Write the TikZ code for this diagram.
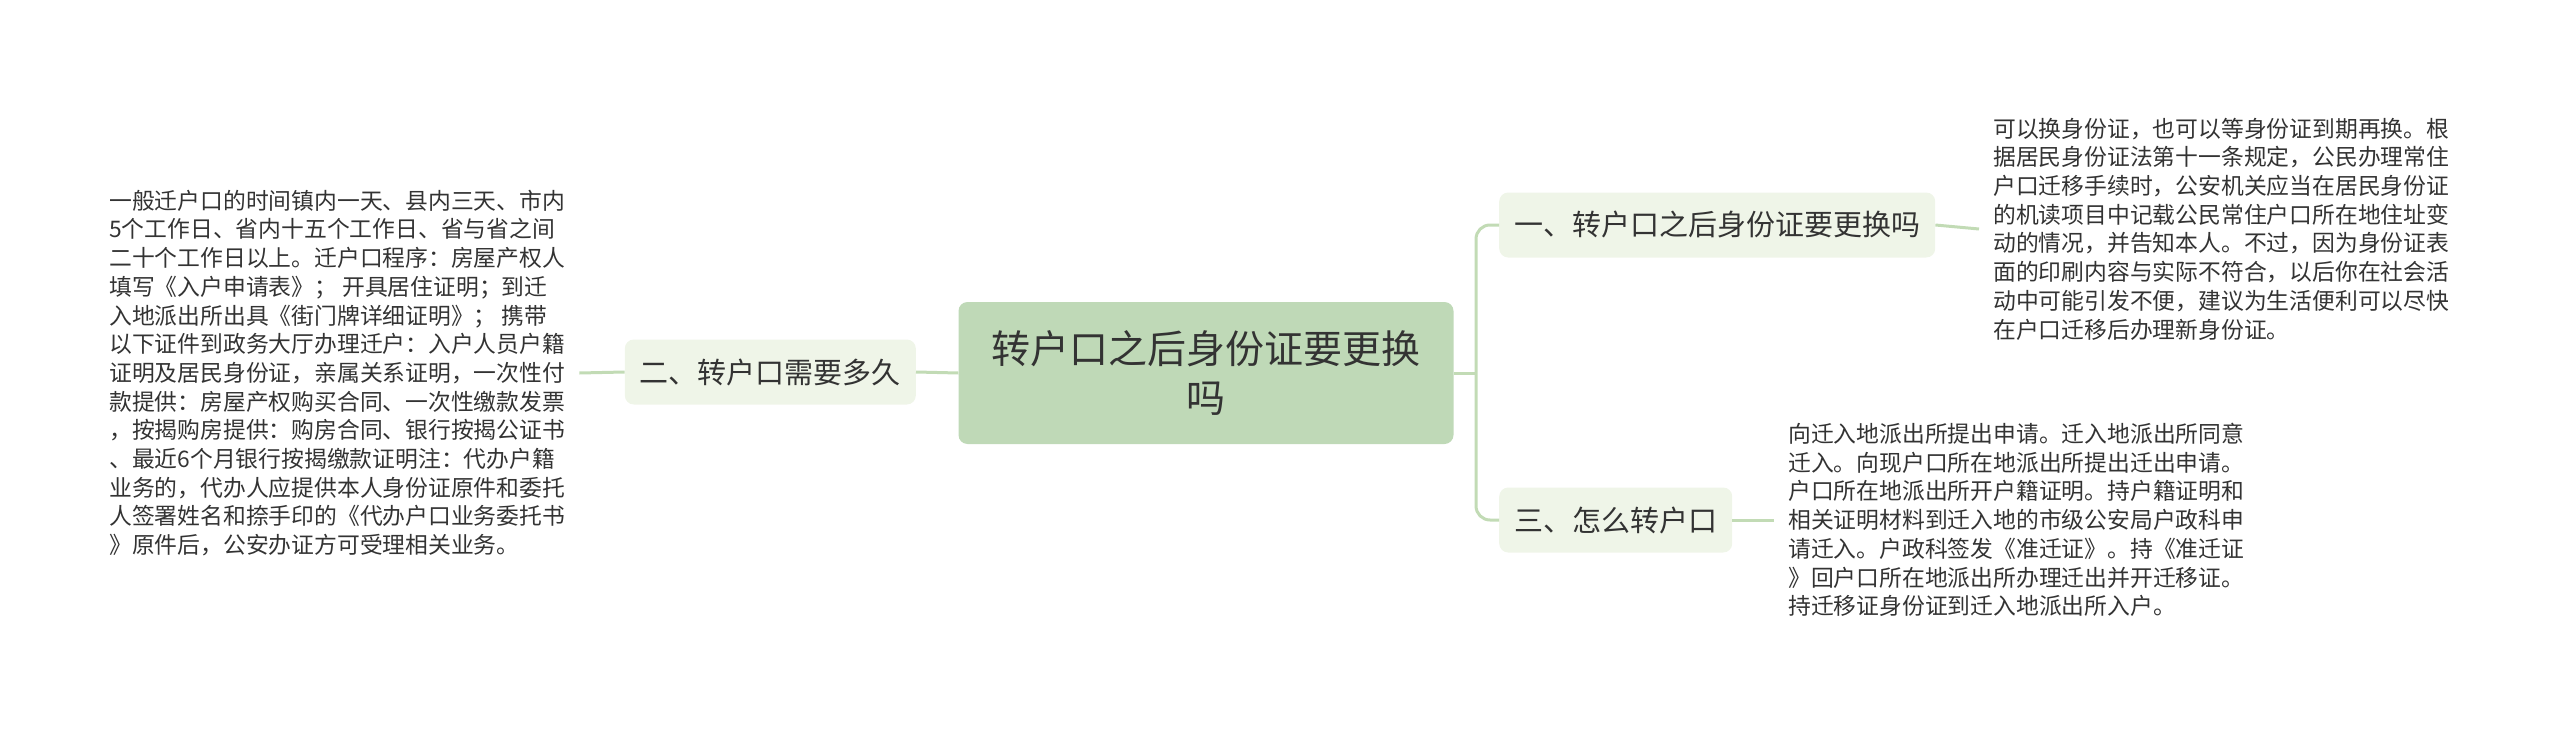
\documentclass[tikz,border=0pt]{standalone}
\usepackage{fontspec}
\setmainfont{Noto Sans CJK SC}

\definecolor{rootgreen}{HTML}{BFD9B7}
\definecolor{branchgreen}{HTML}{EFF5E8}
\definecolor{linegreen}{HTML}{C2DBB5}
\definecolor{inkgray}{HTML}{333333}

\tikzset{
  rootbox/.style={fill=rootgreen, rounded corners=9pt, minimum width=495pt,
    minimum height=142pt, align=center, text=inkgray,
    font=\fontsize{39pt}{49pt}\selectfont},
  branchbox/.style={fill=branchgreen, rounded corners=9pt, minimum height=65pt,
    inner xsep=15pt, text=inkgray, font=\fontsize{29pt}{35pt}\selectfont},
  leaftext/.style={align=left, inner xsep=14pt, inner ysep=0pt, text=inkgray,
    font=\fontsize{22.8pt}{28.7pt}\selectfont},
  link/.style={draw=linegreen, line width=3pt},
}

\begin{document}
\begin{tikzpicture}[x=1pt,y=-1pt]
  \useasboundingbox (0,0) rectangle (2560,733);

  %central topic
  \node[rootbox] (root) at (1206,373) {转户口之后身份证要更换\\吗};

  %branches
  \node[branchbox, anchor=east] (howlong) at (916,372) {二、转户口需要多久};
  \node[branchbox, anchor=west] (idcard) at (1499,225) {一、转户口之后身份证要更换吗};
  \node[branchbox, anchor=west] (howto) at (1499,520) {三、怎么转户口};

  %text of branch two
  \node[leaftext, anchor=west] (howlongtext) at (95,373) {一般迁户口的时间镇内一天、县内三天、市内\\
    5个工作日、省内十五个工作日、省与省之间\\
    二十个工作日以上。迁户口程序：房屋产权人\\
    填写《入户申请表》；\ 开具居住证明；到迁\\
    入地派出所出具《街门牌详细证明》；\ 携带\\
    以下证件到政务大厅办理迁户：入户人员户籍\\
    证明及居民身份证，亲属关系证明，一次性付\\
    款提供：房屋产权购买合同、一次性缴款发票\\
    ，按揭购房提供：购房合同、银行按揭公证书\\
    、最近6个月银行按揭缴款证明注：代办户籍\\
    业务的，代办人应提供本人身份证原件和委托\\
    人签署姓名和捺手印的《代办户口业务委托书\\
    》原件后，公安办证方可受理相关业务。};

  %text of branch one
  \node[leaftext, anchor=west] (idcardtext) at (1979,229) {可以换身份证，也可以等身份证到期再换。根\\
    据居民身份证法第十一条规定，公民办理常住\\
    户口迁移手续时，公安机关应当在居民身份证\\
    的机读项目中记载公民常住户口所在地住址变\\
    动的情况，并告知本人。不过，因为身份证表\\
    面的印刷内容与实际不符合，以后你在社会活\\
    动中可能引发不便，建议为生活便利可以尽快\\
    在户口迁移后办理新身份证。};

  %text of branch three
  \node[leaftext, anchor=west] (howtotext) at (1774,520) {向迁入地派出所提出申请。迁入地派出所同意\\
    迁入。向现户口所在地派出所提出迁出申请。\\
    户口所在地派出所开户籍证明。持户籍证明和\\
    相关证明材料到迁入地的市级公安局户政科申\\
    请迁入。户政科签发《准迁证》。持《准迁证\\
    》回户口所在地派出所办理迁出并开迁移证。\\
    持迁移证身份证到迁入地派出所入户。};

  %connectors
  \coordinate (fork) at (1476,373);
  \draw[link] (root.west) -- (howlong.east);
  \draw[link] (howlong.west) -- (howlongtext.east);
  \draw[link] (root.east) -- (fork);
  \draw[link, rounded corners=14pt] (idcard.west) -| (fork) |- (howto.west);
  \draw[link] (idcard.east) -- (idcardtext.west);
  \draw[link] (howto.east) -- (howtotext.west);
\end{tikzpicture}
\end{document}
